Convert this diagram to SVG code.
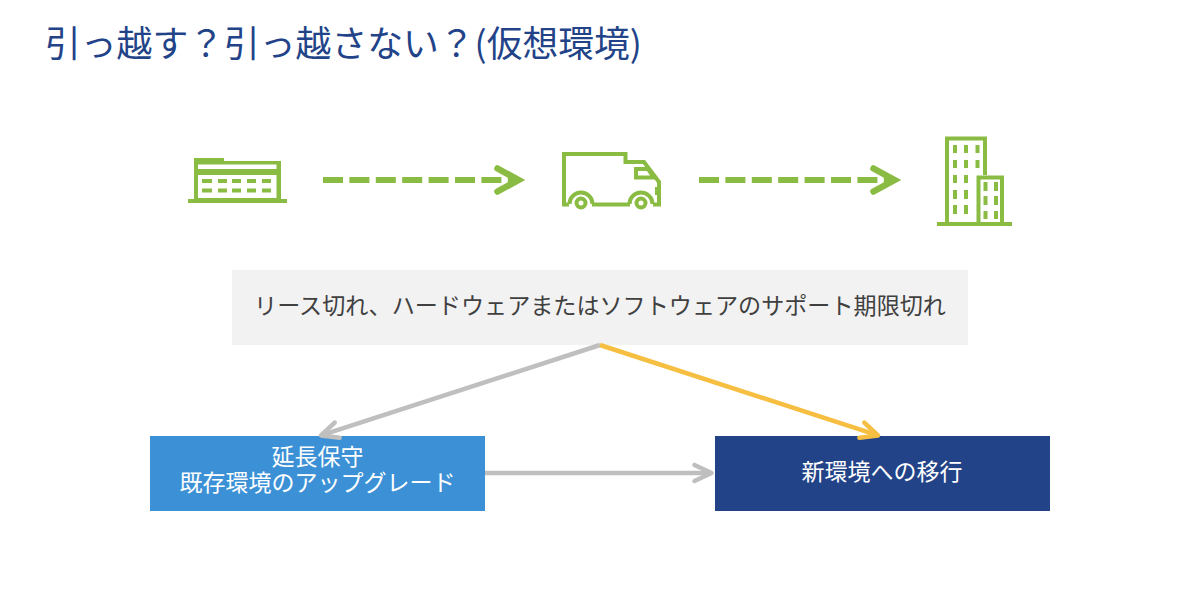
<svg xmlns="http://www.w3.org/2000/svg" width="1200" height="612" viewBox="0 0 1200 612">
<defs>
<marker id="g" markerUnits="userSpaceOnUse" markerWidth="36" markerHeight="40" refX="26" refY="20" orient="auto"><path d="M5 8.500L26 20L5 31.500" fill="none" stroke="#8abb42" stroke-width="6.500" stroke-linecap="round" stroke-linejoin="miter"/></marker>
<marker id="s" markerUnits="userSpaceOnUse" markerWidth="30" markerHeight="30" refX="22" refY="15" orient="auto"><path d="M5 7L22 15L5 23" fill="none" stroke="#bfbfbf" stroke-width="4.500" stroke-linecap="round" stroke-linejoin="round"/></marker>
<marker id="y" markerUnits="userSpaceOnUse" markerWidth="30" markerHeight="30" refX="22" refY="15" orient="auto"><path d="M5 7L22 15L5 23" fill="none" stroke="#f6bf41" stroke-width="4.500" stroke-linecap="round" stroke-linejoin="round"/></marker>
</defs>
<style>
text{font-family:"Noto Sans CJK JP","Noto Sans",sans-serif}
.w{fill:#fff;font-size:23px;text-anchor:middle}
.l{fill:none;stroke:#8abb42;stroke-width:4}
.f{fill:#8abb42}
.dash{fill:none;stroke:#8abb42;stroke-width:6;stroke-dasharray:20 6.4}
</style>
<rect width="1200" height="612" fill="#fff"/>
<text id="title" x="45" y="57" font-size="35.800" fill="#224388">引っ越す？引っ越さない？(仮想環境)</text>
<g id="icon-old">
<path class="f" fill-rule="evenodd" d="M194 158H224V161H281V199H287V203H188V199H194ZM198 164.500V169H276.500V164.500ZM198 175V198H276.500V175Z"/>
<path class="f" d="M202 179h10v4h-10zM218 179h9v4h-9zM232 179h9v4h-9zM247 179h9v4h-9zM262 179h9v4h-9zM202 188.500h10v4h-10zM218 188.500h9v4h-9zM232 188.500h9v4h-9zM247 188.500h9v4h-9zM262 188.500h9v4h-9z"/>
</g>
<g id="icon-truck">
<path class="l" d="M569 204.500H564V154H625.500V162H644L659 182V204.500H653M630 204.500H592"/>
<path class="l" d="M636 169H648L654 177.500H636Z" stroke-width="3.500"/>
<path class="l" d="M569.500 204A11.500 11.500 0 0 1 592.500 204M629.500 204A11.500 11.500 0 0 1 652.500 204"/>
<circle class="l" cx="581" cy="203" r="4.500" stroke-width="3.500"/>
<circle class="l" cx="641" cy="203" r="4.500" stroke-width="3.500"/>
<rect class="f" x="655" y="187" width="6" height="8"/>
</g>
<g id="icon-building">
<path class="l" d="M947 222V138.500H985V175" stroke-width="3.500"/>
<path class="l" d="M978.500 222V177.500H1002V222" stroke-width="3.500"/>
<rect class="f" x="937" y="222" width="75" height="4"/>
<path class="f" d="M953 145h4v8h-4zM964 145h4v8h-4zM975.500 145h4v8h-4zM953 160h4v8h-4zM964 160h4v8h-4zM975.500 160h4v8h-4zM953 175h4v8h-4zM964 175h4v8h-4zM953 190h4v9h-4zM964 190h4v9h-4zM953 205h4v9h-4zM964 205h4v9h-4zM983.500 182h4v9h-4zM994 182h4v9h-4zM983.500 196h4v9h-4zM994 196h4v9h-4zM983.500 211h4v8h-4zM994 211h4v8h-4z"/>
</g>
<g id="node-reason">
<rect x="232" y="270" width="736" height="75" fill="#f2f2f2"/>
<text x="600" y="313.500" font-size="23.100" fill="#404040" text-anchor="middle">リース切れ、ハードウェアまたはソフトウェアのサポート期限切れ</text>
</g>
<g id="node-extend">
<rect x="150" y="436" width="335" height="75" fill="#3c91d6"/>
<text class="w"><tspan x="317.500" y="465">延長保守</tspan><tspan x="317.500" y="491">既存環境のアップグレード</tspan></text>
</g>
<g id="node-migrate">
<rect x="715" y="436" width="335" height="75" fill="#224388"/>
<text class="w" x="882" y="480">新環境への移行</text>
</g>
<g id="connectors">
<line class="dash" x1="323" y1="180" x2="518.500" y2="180" marker-end="url(#g)"/>
<line class="dash" x1="699" y1="180" x2="894.500" y2="180" marker-end="url(#g)"/>
<line x1="600" y1="345" x2="321" y2="435.400" stroke="#bfbfbf" stroke-width="4.500" marker-end="url(#s)"/>
<line x1="600" y1="345" x2="878" y2="435.400" stroke="#f6bf41" stroke-width="4.500" marker-end="url(#y)"/>
<line x1="485" y1="473" x2="711.500" y2="473" stroke="#bfbfbf" stroke-width="4.500" marker-end="url(#s)"/>
</g>
</svg>
